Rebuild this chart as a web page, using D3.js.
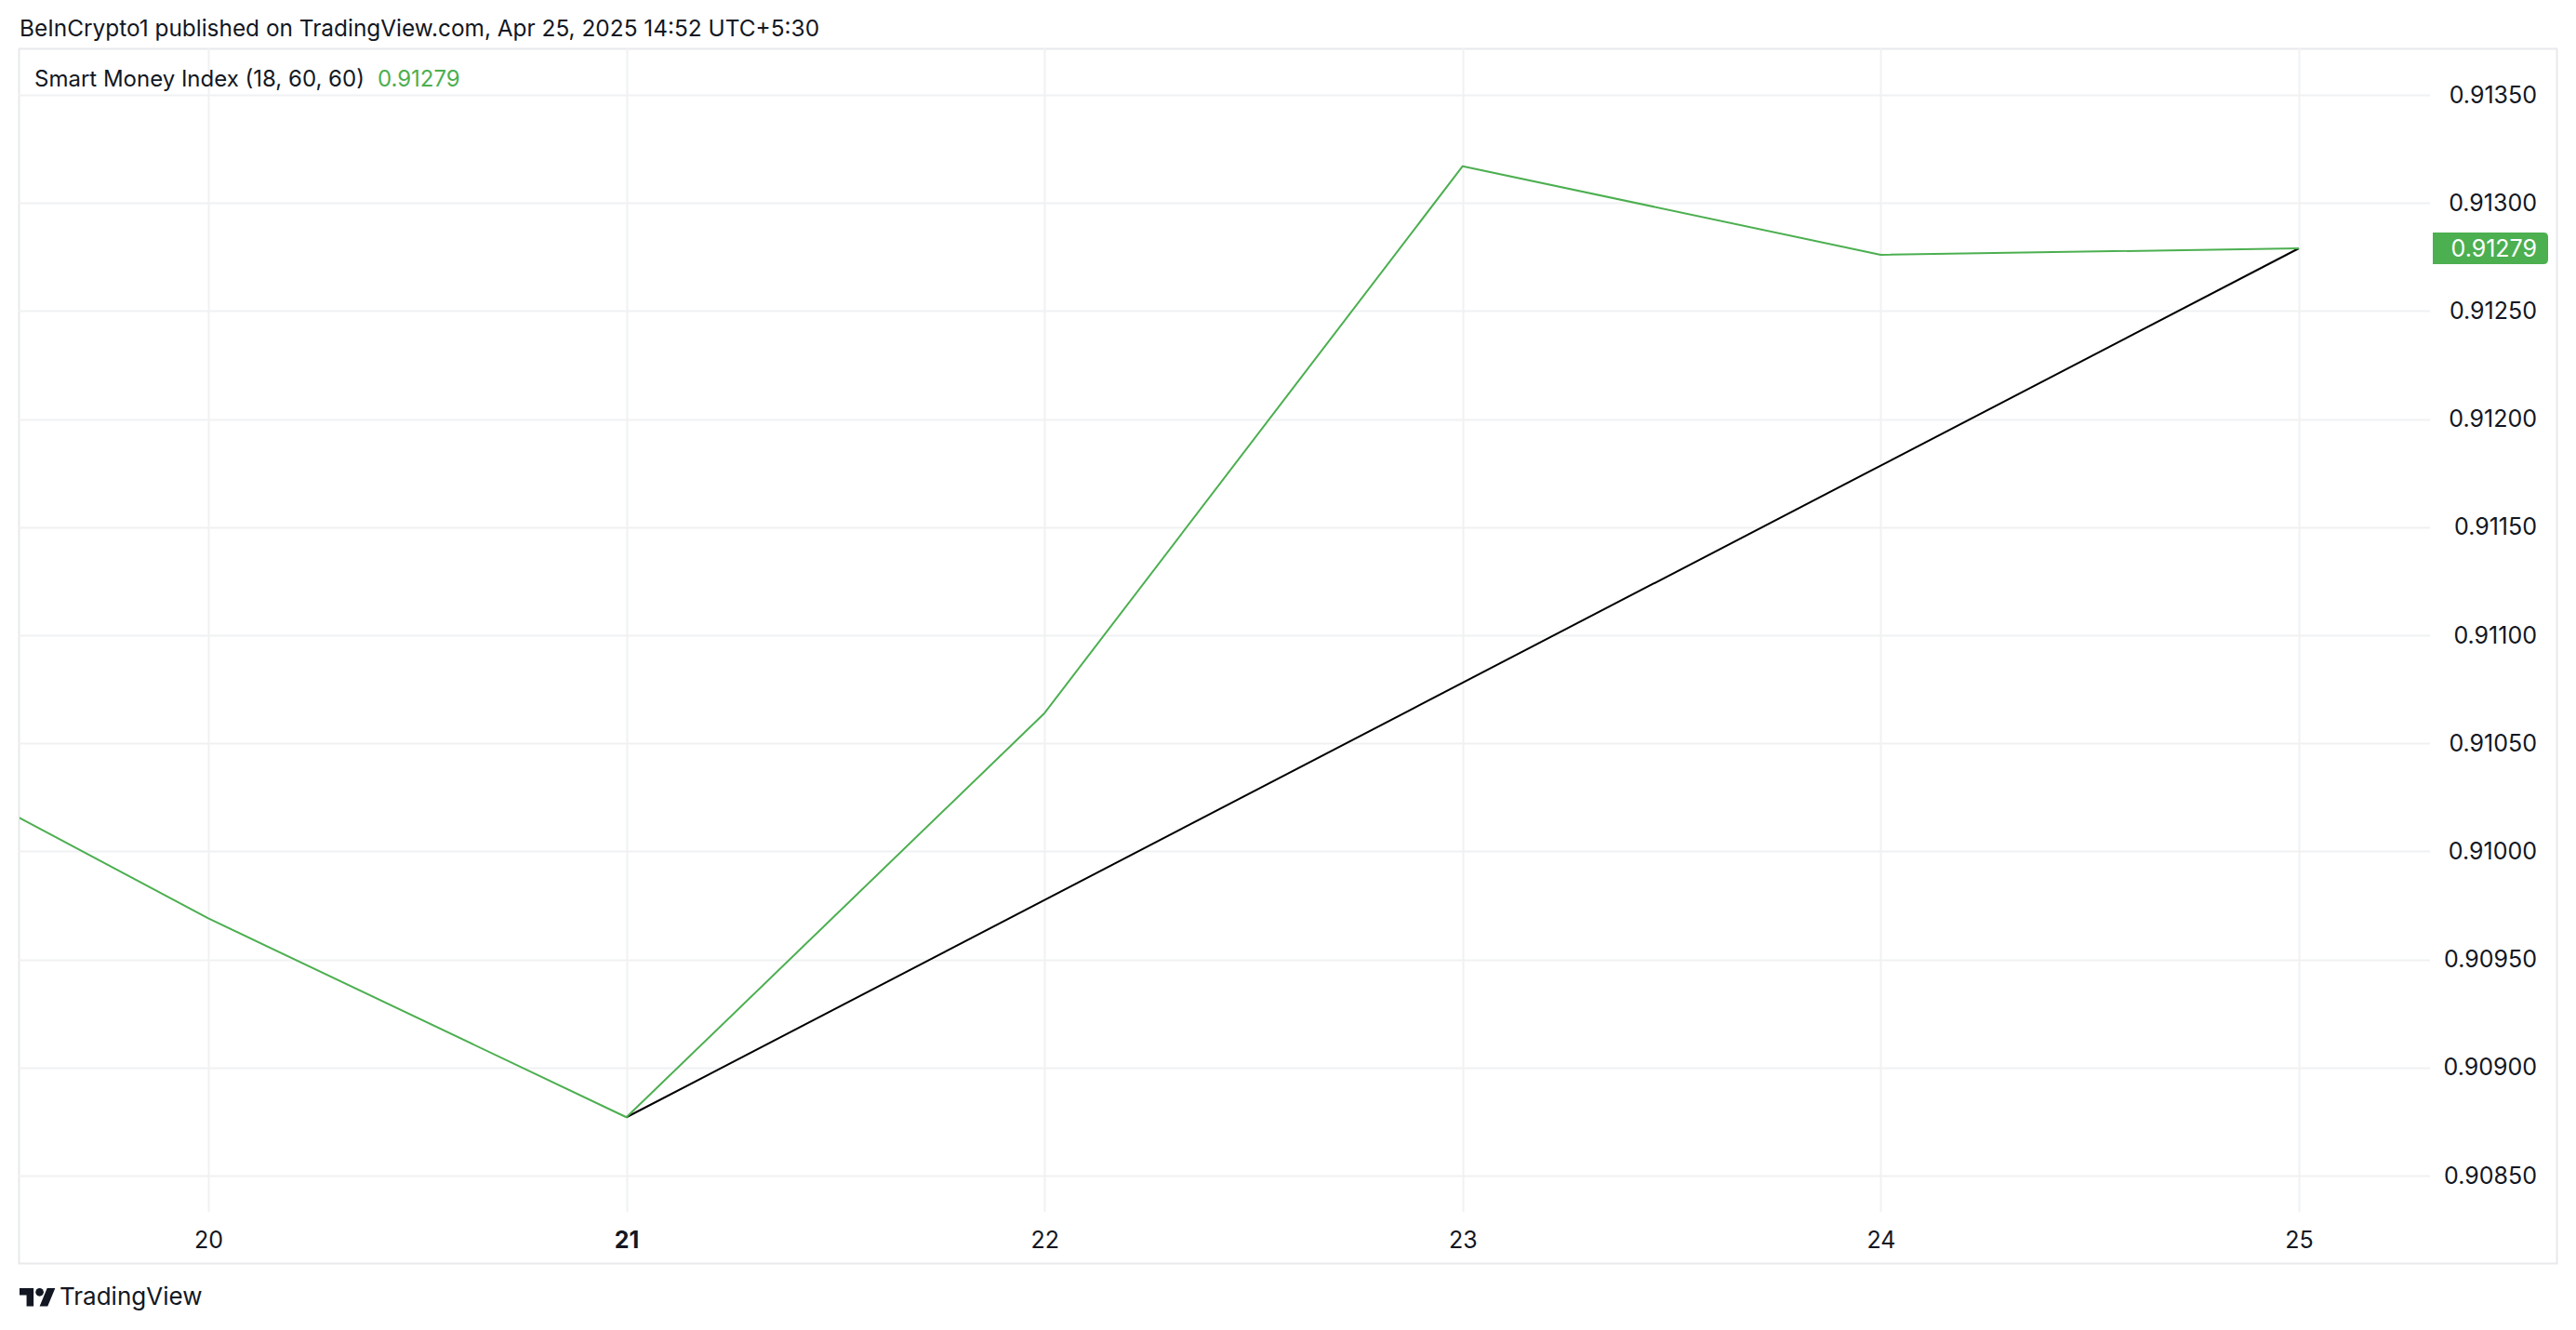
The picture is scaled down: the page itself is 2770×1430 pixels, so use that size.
<!DOCTYPE html>
<html>
<head>
<meta charset="utf-8">
<script src="https://cdn.jsdelivr.net/npm/d3@7"></script>
<style>
  html, body { margin: 0; padding: 0; background: #ffffff; }
  svg { display: block; }
  text { font-family: Inter, "Noto Sans", Roboto, sans-serif; fill: #131722; }
</style>
</head>
<body>
<svg id="chart" width="2770" height="1430"></svg>
<script>
// ---------- data ----------
const days = [19, 20, 21, 22, 23, 24, 25];
const smiValues = [0.91072, 0.90969, 0.90877, 0.91064, 0.91317, 0.91276, 0.91279];
const trendDays = [21, 25];
const trendValues = [0.90877, 0.91279];
const xTickLabels = ["20", "21", "22", "23", "24", "25"];
const xTickDays = [20, 21, 22, 23, 24, 25];
const yTicks = [0.9085, 0.9090, 0.9095, 0.9100, 0.9105, 0.9110, 0.9115, 0.9120, 0.9125, 0.9130, 0.9135];
const headerText = "BeInCrypto1 published on TradingView.com, Apr 25, 2025 14:52 UTC+5:30";
const legendTitle = "Smart Money Index (18, 60, 60)";
const lastValue = 0.91279;

// ---------- layout ----------
const W = 2770, H = 1430;
const pane = { left: 20, top: 52, right: 2750, bottom: 1359 };
const plot = { left: 20, top: 52, right: 2613, bottom: 1303 };
const green = "#4caf50";
const gridColor = "#f0f1f3";
const borderColor = "#e8e9ec";

const svg = d3.select("#chart");

const x = d3.scaleLinear().domain([20, 25]).range([224, 2472]);
const y = d3.scaleLinear().domain([0.9085, 0.9135]).range([1264, 102]);

// header
svg.append("text")
  .attr("x", 21).attr("y", 39)
  .attr("font-size", 24.4)
  .text(headerText);

// pane border
svg.append("rect")
  .attr("x", pane.left + 0.5).attr("y", pane.top + 0.5)
  .attr("width", pane.right - pane.left - 1).attr("height", pane.bottom - pane.top - 1)
  .attr("fill", "none").attr("stroke", borderColor).attr("stroke-width", 2);

// grid
const grid = svg.append("g");
grid.selectAll("line.h").data(yTicks).join("line")
  .attr("x1", plot.left).attr("x2", plot.right)
  .attr("y1", d => Math.round(y(d)) + 0.5).attr("y2", d => Math.round(y(d)) + 0.5)
  .attr("stroke", gridColor).attr("stroke-width", 2);
grid.selectAll("line.v").data(xTickDays).join("line")
  .attr("y1", plot.top).attr("y2", plot.bottom)
  .attr("x1", d => Math.round(x(d)) + 0.5).attr("x2", d => Math.round(x(d)) + 0.5)
  .attr("stroke", gridColor).attr("stroke-width", 2);

// clip
svg.append("clipPath").attr("id", "plotclip").append("rect")
  .attr("x", plot.left + 1).attr("y", plot.top + 1)
  .attr("width", plot.right - plot.left).attr("height", plot.bottom - plot.top);

const line = d3.line().x(d => x(d[0])).y(d => y(d[1]));
const lines = svg.append("g").attr("clip-path", "url(#plotclip)");

lines.append("path")
  .datum(trendDays.map((d, i) => [d, trendValues[i]]))
  .attr("d", line).attr("fill", "none")
  .attr("stroke", "#000000").attr("stroke-width", 2).attr("stroke-linejoin", "round");

lines.append("path")
  .datum(days.map((d, i) => [d, smiValues[i]]))
  .attr("d", line).attr("fill", "none")
  .attr("stroke", green).attr("stroke-width", 2).attr("stroke-linejoin", "round");

// legend
const leg = svg.append("text").attr("x", 37).attr("y", 93).attr("font-size", 24);
leg.append("tspan").text(legendTitle);
leg.append("tspan").attr("dx", 14).style("fill", green).text(d3.format(".5f")(lastValue));

// y axis (right)
const yAxis = d3.axisRight(y).tickValues(yTicks).tickFormat(d3.format(".5f")).tickSize(0).tickPadding(0);
const yg = svg.append("g").attr("transform", `translate(2728,0)`).call(yAxis);
yg.select(".domain").remove();
yg.selectAll("text").attr("text-anchor", "end").attr("font-size", 25)
  .attr("font-family", "Inter, sans-serif").style("fill", "#131722");

// last value label
const ly = y(lastValue);
const bx = 2616, bw = 124, bh = 34, r = 5;
svg.append("path")
  .attr("d", `M${bx},${ly - bh/2} H${bx + bw - r} Q${bx + bw},${ly - bh/2} ${bx + bw},${ly - bh/2 + r} V${ly + bh/2 - r} Q${bx + bw},${ly + bh/2} ${bx + bw - r},${ly + bh/2} H${bx} Z`)
  .attr("fill", green);
svg.append("text")
  .attr("x", 2728).attr("y", ly).attr("dy", "0.35em")
  .attr("text-anchor", "end").attr("font-size", 25)
  .style("fill", "#ffffff")
  .text(d3.format(".5f")(lastValue));

// x axis
const xAxis = d3.axisBottom(x).tickValues(xTickDays).tickFormat((d, i) => xTickLabels[i]).tickSize(0).tickPadding(0);
const xg = svg.append("g").attr("transform", `translate(0,1333)`).call(xAxis);
xg.select(".domain").remove();
xg.selectAll("text").attr("dy", "0.35em").attr("font-size", 25)
  .attr("font-family", "Inter, sans-serif").style("fill", "#131722")
  .attr("font-weight", (d) => d === 21 ? 700 : 400);

// TradingView logo
const logo = svg.append("g").attr("transform", "translate(21,1385) scale(1.08)");
logo.append("path").attr("d", "M14 22H7V11H0V4h14v18zM28 22h-8l7.5-18h8L28 22z").attr("transform", "translate(0,-4)").attr("fill", "#131722");
logo.append("circle").attr("cx", 20).attr("cy", 4).attr("r", 4).attr("fill", "#131722");
svg.append("text").attr("x", 64).attr("y", 1403).attr("font-size", 26).text("TradingView");
</script>
</body>
</html>
